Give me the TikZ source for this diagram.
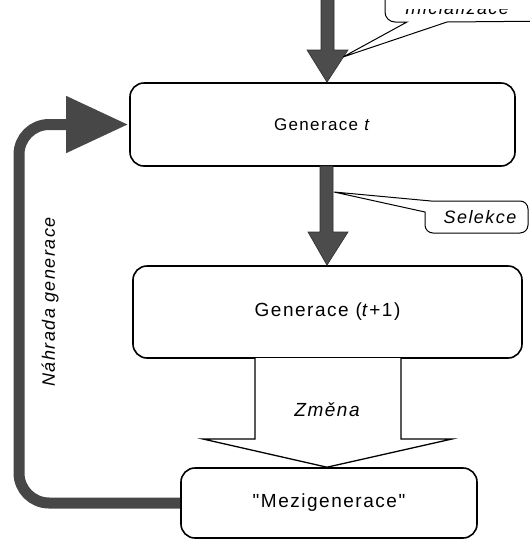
\documentclass[tikz,border=0pt]{standalone}
\usepackage{fontspec}
\newfontfamily\lab[LetterSpace=8]{Liberation Sans}
\usetikzlibrary{arrows.meta,calc}
\tikzset{
  genbox/.style={draw=black, line width=1.6pt, rounded corners=14pt, fill=white, inner sep=0pt,
    font=\lab\fontsize{17}{20}\selectfont},
  bigtext/.style={font=\lab\fontsize{19}{22}\selectfont},
  garrow/.style={fill=black!70, draw=black!82, line width=0.6pt},
  hollow/.style={fill=white, draw=black, line width=1.3pt, line join=miter},
  callout/.style={fill=white, draw=black, line width=1pt},
  lbl/.style={font=\lab\fontsize{18}{21}\selectfont\itshape, inner sep=0pt}
}
\begin{document}
\begin{tikzpicture}[x=1pt,y=-1pt]
\useasboundingbox (0,0) rectangle (530,539);
\clip (0,0) rectangle (530,539);
% boxes
\node[genbox, minimum width=385pt, minimum height=83pt] (g1) at (322.5,124.5) {Generace \textit{t}};
\node[genbox, bigtext, minimum width=389pt, minimum height=92pt] (g2) at (327.5,312) {Generace (\textit{t}+1)};
\node[genbox, bigtext, minimum width=296pt, minimum height=70pt] (m) at (329,503) {"Mezigenerace"};
\coordinate (ax) at (327,0);
% top arrow (initialisation)
\draw[garrow] (321,-5) -- (321,50) -- (307,50) -- (ax |- g1.north) -- (348,50) -- (334,50) -- (334,-5) -- cycle;
% top callout
\draw[callout] (385,-30) -- (385,12) to[out=-90,in=180] (395,22) -- (407,22) -- (343,57) -- (447,22) -- (560,21) -- (560,-30);
\begin{scope}
\clip (380,9) rectangle (530,20);
\node[lbl, anchor=base] (ini) at (457,14) {Inicializace};
\end{scope}
% selection arrow
\draw[garrow] (320,166) -- (320,232) -- (308,232) -- (ax |- g2.north) -- (348,232) -- (333,232) -- (333,166) -- cycle;
% selection callout
\draw[callout] (425,212) -- (334,192) -- (431,201) -- (520,201) to[out=0,in=90] (528,209) -- (528,225) to[out=-90,in=0] (520,233) -- (433,233) to[out=180,in=-90] (425,225) -- cycle;
\node[lbl] (sel) at (480,217) {Selekce};
% change arrow
\draw[hollow] (255,358) -- (255,439) -- (203,439) -- (ax |- m.north) -- (452,439) -- (401,439) -- (401,358);
\node[lbl, font=\lab\fontsize{19}{22}\selectfont\itshape] (zm) at (327,410) {Změna};
% replacement arrow
\draw[black!72, line width=11pt, rounded corners=30pt, -{Triangle[length=62pt,width=54pt]}]
  (m.west) -| (19,300) |- ($(g1.west)+(-1,0)$);
\node[lbl, rotate=90] (nah) at (50,302) {Náhrada generace};
\end{tikzpicture}
\end{document}
